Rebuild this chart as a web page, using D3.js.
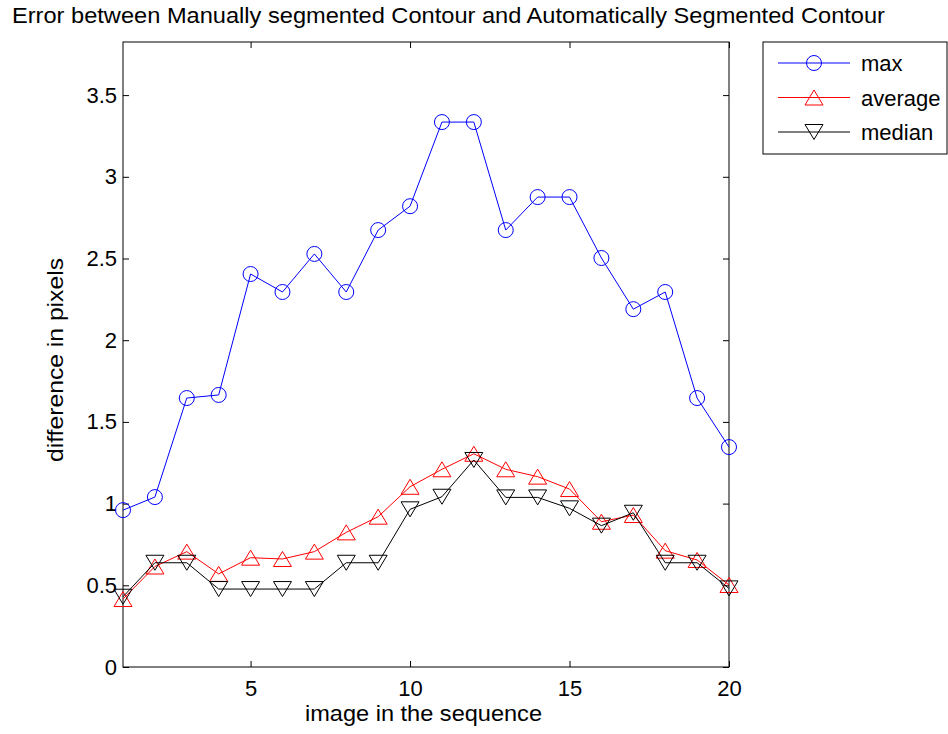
<!DOCTYPE html>
<html>
<head>
<meta charset="utf-8">
<script src="https://cdn.jsdelivr.net/npm/d3@7"></script>
<style>
  html, body { margin: 0; padding: 0; background: #fff; }
  svg { display: block; font-family: "Liberation Sans", Arial, Helvetica, sans-serif; }
</style>
</head>
<body>
<svg id="chart" width="948" height="734"></svg>
<script>
// ---- data ----
const images = d3.range(1, 21);
const maxErr = [0.96, 1.04, 1.646, 1.665, 2.405, 2.295, 2.528, 2.295, 2.674, 2.82,
                3.335, 3.335, 2.674, 2.876, 2.876, 2.503, 2.19, 2.295, 1.646, 1.346];
const avgErr = [0.416, 0.615, 0.706, 0.57, 0.669, 0.661, 0.706, 0.824, 0.92, 1.103,
                1.21, 1.305, 1.21, 1.165, 1.089, 0.889, 0.93, 0.712, 0.655, 0.502];
const medErr = [0.43, 0.638, 0.638, 0.477, 0.477, 0.477, 0.477, 0.638, 0.638, 0.965,
                1.042, 1.267, 1.038, 1.038, 0.971, 0.865, 0.944, 0.638, 0.638, 0.481];
const xTicks = [5, 10, 15, 20];
const yTicks = [0, 0.5, 1, 1.5, 2, 2.5, 3, 3.5];
const seriesNames = ["max", "average", "median"];
const titleText = "Error between Manually segmented Contour and Automatically Segmented Contour";
const xLabel = "image in the sequence";
const yLabel = "difference in pixels";

// ---- layout ----
const L = 123, R = 729, T = 42, B = 667;
const svg = d3.select("#chart");
const x = d3.scaleLinear().domain([1, 20]).range([L, R]);
const y = d3.scaleLinear().domain([0, 3.825]).range([B, T]);
const FS = 22;
const FF = "Liberation Sans, Arial, sans-serif";

const series = [
  { name: seriesNames[0], values: maxErr, color: "#0000ff", marker: "circle" },
  { name: seriesNames[1], values: avgErr, color: "#ff0000", marker: "up" },
  { name: seriesNames[2], values: medErr, color: "#000000", marker: "down" }
];

function markerPath(type) {
  const w = 18, h = 15;
  if (type === "up") return `M0,${-h/2}L${w/2},${h/2}L${-w/2},${h/2}Z`;
  if (type === "down") return `M0,${h/2}L${w/2},${-h/2}L${-w/2},${-h/2}Z`;
  return null;
}
function drawMarker(g, type, cx, cy, color) {
  if (type === "circle") {
    g.append("circle").attr("cx", cx).attr("cy", cy).attr("r", 7.5)
      .attr("fill", "none").attr("stroke", color).attr("stroke-width", 1);
  } else {
    g.append("path").attr("d", markerPath(type))
      .attr("transform", `translate(${cx},${cy})`)
      .attr("fill", "none").attr("stroke", color).attr("stroke-width", 1);
  }
}

// axes box
svg.append("rect").attr("x", L).attr("y", T).attr("width", R - L).attr("height", B - T)
  .attr("fill", "#fff").attr("stroke", "#000").attr("stroke-width", 1);

// x axis (ticks inward)
const xAxis = d3.axisBottom(x).tickValues(xTicks).tickSize(-6).tickPadding(13).tickFormat(d => d);
const gx = svg.append("g").attr("transform", `translate(0,${B})`).call(xAxis);
gx.select(".domain").remove();
gx.selectAll("text").attr("font-size", FS).attr("fill", "#000").attr("font-family", FF);
gx.selectAll("line").attr("stroke", "#000");
const gxt = svg.append("g").attr("transform", `translate(0,${T})`)
  .call(d3.axisTop(x).tickValues(xTicks).tickSize(-6).tickFormat(""));
gxt.select(".domain").remove();
gxt.selectAll("line").attr("stroke", "#000");

// y axis
const yAxis = d3.axisLeft(y).tickValues(yTicks).tickSize(-6).tickPadding(6).tickFormat(d => String(d));
const gy = svg.append("g").attr("transform", `translate(${L},0)`).call(yAxis);
gy.select(".domain").remove();
gy.selectAll("text").attr("font-size", FS).attr("fill", "#000").attr("font-family", FF);
gy.selectAll("line").attr("stroke", "#000");
const gyr = svg.append("g").attr("transform", `translate(${R},0)`)
  .call(d3.axisRight(y).tickValues(yTicks).tickSize(-6).tickFormat(""));
gyr.select(".domain").remove();
gyr.selectAll("line").attr("stroke", "#000");

// series
const line = d3.line().x((d, i) => x(images[i])).y(d => y(d));
series.forEach(s => {
  const g = svg.append("g");
  g.append("path").datum(s.values).attr("d", line)
    .attr("fill", "none").attr("stroke", s.color).attr("stroke-width", 1);
  s.values.forEach((v, i) => drawMarker(g, s.marker, x(images[i]), y(v), s.color));
});

// title
svg.append("text").attr("x", 12).attr("y", 23).attr("font-size", FS)
  .attr("textLength", 873).attr("lengthAdjust", "spacingAndGlyphs")
  .attr("fill", "#000").text(titleText);

// x label
svg.append("text").attr("x", 305).attr("y", 721)
  .attr("textLength", 237).attr("lengthAdjust", "spacingAndGlyphs")
  .attr("font-size", FS).attr("fill", "#000").text(xLabel);

// y label
svg.append("text").attr("transform", `translate(63,462) rotate(-90)`)
  .attr("textLength", 204).attr("lengthAdjust", "spacingAndGlyphs")
  .attr("font-size", FS).attr("fill", "#000").text(yLabel);

// legend
const lg = svg.append("g");
lg.append("rect").attr("x", 763).attr("y", 42).attr("width", 184).attr("height", 112)
  .attr("fill", "#fff").attr("stroke", "#000").attr("stroke-width", 1);
const rows = [63, 97.5, 132];
series.forEach((s, i) => {
  const ry = rows[i];
  lg.append("line").attr("x1", 778).attr("x2", 850).attr("y1", ry).attr("y2", ry)
    .attr("stroke", s.color).attr("stroke-width", 1);
  drawMarker(lg, s.marker, 814, ry, s.color);
  lg.append("text").attr("x", 861).attr("y", ry + 8).attr("font-size", FS)
    .attr("fill", "#000").text(s.name);
});
</script>
</body>
</html>
